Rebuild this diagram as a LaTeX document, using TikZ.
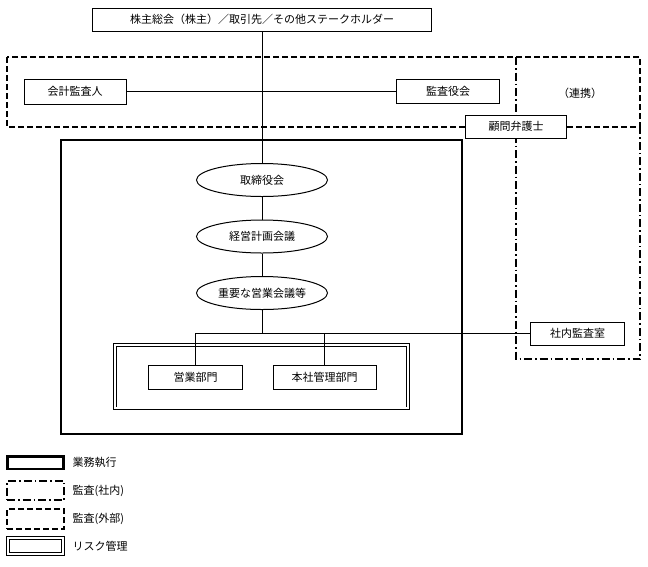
\documentclass[tikz,border=0pt]{standalone}
\usepackage{fontspec}
\setmainfont{Noto Sans CJK JP}
\usetikzlibrary{shapes.geometric}
\begin{document}
\begin{tikzpicture}[x=1pt,y=-1pt,
  every node/.style={font=\fontsize{11pt}{13pt}\selectfont, inner sep=0pt},
  box/.style={draw, line width=1pt, fill=white, minimum height=24pt},
  oval/.style={draw, line width=1pt, ellipse, fill=white, minimum width=131pt, minimum height=33pt},
  thickframe/.style={draw, line width=2.6pt},
  extframe/.style={draw, line width=1.3pt, dash pattern=on 6pt off 3pt},
  intframe/.style={draw, line width=1.3pt, dash pattern=on 8pt off 3pt on 1.5pt off 3pt},
  riskframe/.style={draw, line width=0.9pt, double, double distance=2pt},
  conn/.style={draw, line width=1pt},
  lbl/.style={anchor=west}
]
\useasboundingbox (0,0) rectangle (648,566);

% frames
\draw[extframe] (7,57) rectangle (640,127);
\draw[intframe] (516,57) -- (516,359) -- (640,359) -- (640,127);
\draw[thickframe] (61,140) rectangle (462,434);
\draw[riskframe] (115.3,345.3) rectangle (407.7,408.4);

% nodes
\node[box, minimum width=339pt, minimum height=23pt] (top) at (262,19.5) {株主総会（株主）／取引先／その他ステークホルダー};
\node[box, minimum width=102pt, minimum height=25pt] (kaikei) at (75,91.5) {会計監査人};
\node[box, minimum width=102.6pt] (kansa) at (448,91.5) {監査役会};
\node (renkei) at (580,93) {（連携）};
\node[box, minimum width=101pt, minimum height=23pt] (komon) at (516.2,126.6) {顧問弁護士};
\node[oval] (tori) at (262,180) {取締役会};
\node[oval] (keiei) at (262,236.5) {経営計画会議};
\node[oval] (juyo) at (262,293) {重要な営業会議等};
\node[box, minimum width=94.4pt] (eigyo) at (195.5,377) {営業部門};
\node[box, minimum width=102.7pt] (honsha) at (324.7,377) {本社管理部門};
\node[box, minimum width=93.6pt, minimum height=22.7pt] (shanai) at (577.5,333.7) {社内監査室};

% connectors
\draw[conn] (top.south) -- (tori.north);
\draw[conn] (kaikei.east) -- (kansa.west);
\draw[conn] (tori.south) -- (keiei.north);
\draw[conn] (keiei.south) -- (juyo.north);
\coordinate (jn) at (juyo.south |- shanai.west);
\draw[conn] (juyo.south) -- (jn);
\draw[conn] (eigyo.north) -- (eigyo.north |- shanai.west) -- (shanai.west);
\draw[conn] (honsha.north) -- (honsha.north |- shanai.west);

% legend
\node[thickframe, minimum width=56pt, minimum height=12.5pt] (lg1) at (35.5,462.7) {};
\node[lbl] (lt1) at (72.5,462.5) {業務執行};
\node[intframe, minimum width=57pt, minimum height=19pt] (lg2) at (35.5,490.5) {};
\node[lbl] (lt2) at (72.5,491) {監査(社内)};
\node[extframe, minimum width=57pt, minimum height=20pt] (lg3) at (35.5,519) {};
\node[lbl] (lt3) at (72.5,519) {監査(外部)};
\node[riskframe, minimum width=55pt, minimum height=16pt] (lg4) at (35.5,546) {};
\node[lbl] (lt4) at (72.5,546) {リスク管理};
\end{tikzpicture}
\end{document}
